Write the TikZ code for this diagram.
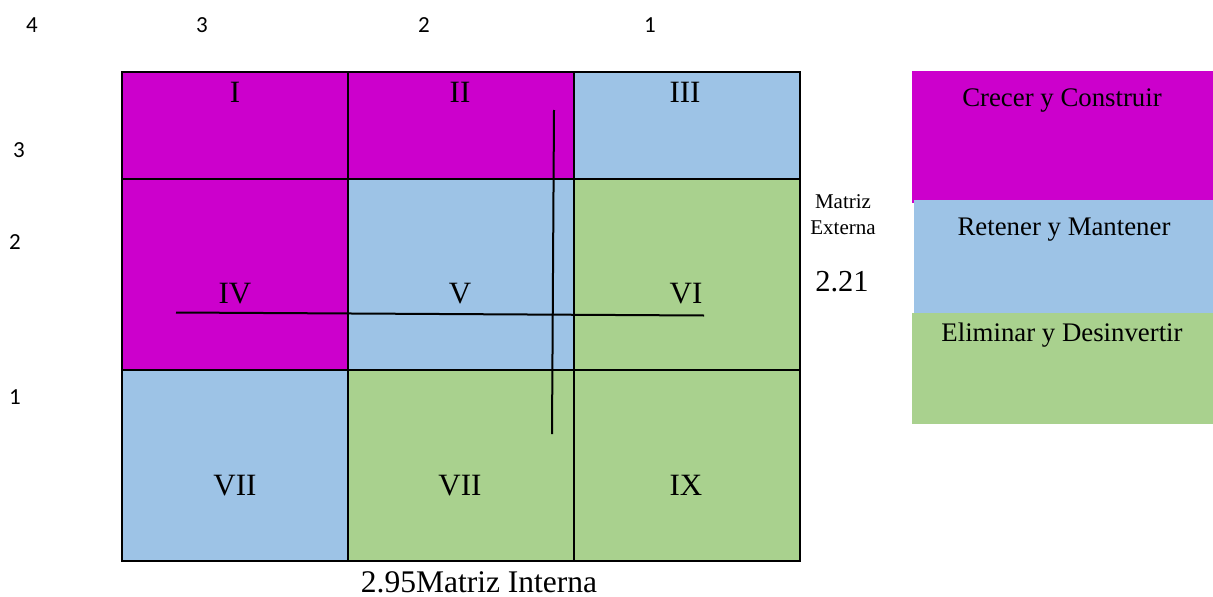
\documentclass[tikz,border=0pt]{standalone}
\usepackage{fontspec}
\setmainfont{Liberation Serif}
\newfontfamily\calfont{Carlito}
\definecolor{crecer}{HTML}{CC00CC}
\definecolor{retener}{HTML}{9DC3E6}
\definecolor{eliminar}{HTML}{A9D18E}
\begin{document}
\begin{tikzpicture}[x=1pt,y=-1pt,
  cell/.style={line width=2pt,draw=black},
  roman/.style={anchor=base,inner sep=0pt,font=\fontsize{31}{34}\selectfont},
  legtext/.style={anchor=base,inner sep=0pt,font=\fontsize{26.8}{30}\selectfont},
  axisnum/.style={anchor=base,inner sep=0pt,font=\calfont\fontsize{23}{26}\selectfont},
  cross/.style={line width=2pt,draw=black}]
\useasboundingbox (0,0) rectangle (1213,597);

% 3x3 matrix cells
\fill[crecer]   (122,72)  rectangle (348,179);
\fill[crecer]   (348,72)  rectangle (574,179);
\fill[retener]  (574,72)  rectangle (800,179);
\fill[crecer]   (122,179) rectangle (348,370);
\fill[retener]  (348,179) rectangle (574,370);
\fill[eliminar] (574,179) rectangle (800,370);
\fill[retener]  (122,370) rectangle (348,561);
\fill[eliminar] (348,370) rectangle (574,561);
\fill[eliminar] (574,370) rectangle (800,561);
\draw[cell] (122,72) rectangle (800,561);
\draw[cell] (348,72) -- (348,561);
\draw[cell] (574,72) -- (574,561);
\draw[cell] (122,179) -- (800,179);
\draw[cell] (122,370) -- (800,370);

% cell labels
\node[roman] (c1) at (235,102) {I};
\node[roman] (c2) at (460,102) {II};
\node[roman] (c3) at (685,102) {III};
\node[roman] (c4) at (235,303) {IV};
\node[roman] (c5) at (460,303) {V};
\node[roman] (c6) at (686,303) {VI};
\node[roman] (c7) at (235,495) {VII};
\node[roman] (c8) at (460,495) {VII};
\node[roman] (c9) at (686,495) {IX};

% position cross
\coordinate (vtop) at (554,110);
\coordinate (vbot) at (552,434);
\coordinate (hleft) at (176,312.5);
\coordinate (hright) at (704,315.5);
\draw[cross] (vtop) -- (vbot);
\draw[cross] (hleft) -- (hright);

% legend
\fill[crecer]   (912,71)  rectangle (1213,203);
\fill[retener]  (914,200) rectangle (1213,315);
\fill[eliminar] (912,313) rectangle (1213,424);
\node[legtext] (l1) at (1062,106) {Crecer y Construir};
\node[legtext] (l2) at (1064,235) {Retener y Mantener};
\node[legtext] (l3) at (1062,341) {Eliminar y Desinvertir};

% scores
\node[anchor=base,inner sep=0pt,font=\fontsize{21}{24}\selectfont] (me1) at (843,208) {Matriz};
\node[anchor=base,inner sep=0pt,font=\fontsize{21}{24}\selectfont] (me2) at (843,234) {Externa};
\node[anchor=base,inner sep=0pt,font=\fontsize{30.5}{34}\selectfont] (ev) at (842,291) {2.21};
\node[anchor=base,inner sep=0pt,font=\fontsize{31.5}{34}\selectfont] (iv) at (479,592) {2.95Matriz Interna};

% axis numbers
\node[axisnum] (t4) at (32,32) {4};
\node[axisnum] (t3) at (202,32) {3};
\node[axisnum] (t2) at (424,32) {2};
\node[axisnum] (t1) at (650,32) {1};
\node[axisnum] (s3) at (19,157) {3};
\node[axisnum] (s2) at (15,249) {2};
\node[axisnum] (s1) at (15,404) {1};
\end{tikzpicture}
\end{document}
